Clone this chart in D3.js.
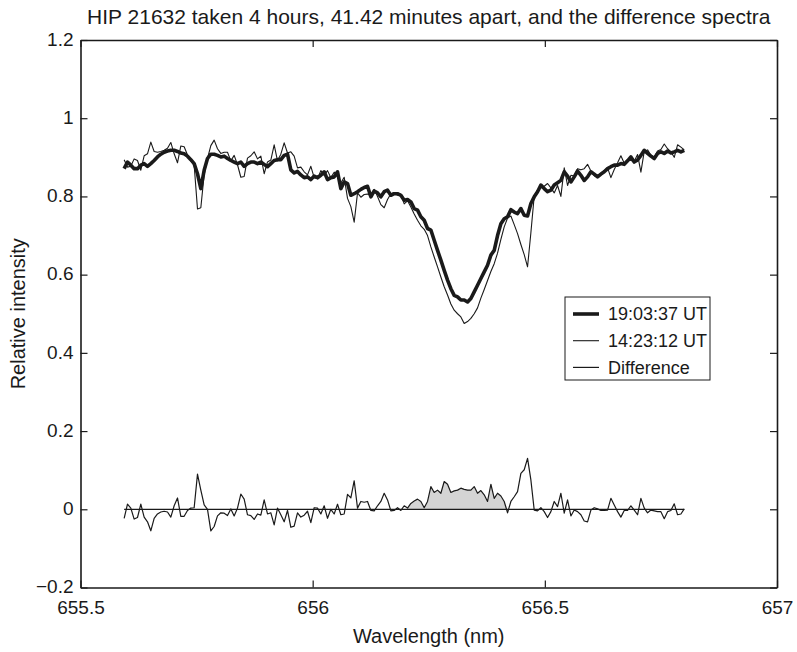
<!DOCTYPE html>
<html><head><meta charset="utf-8">
<script src="https://cdn.jsdelivr.net/npm/d3@7"></script>
<style>
body{margin:0;background:#fff}
text{font-family:"Liberation Sans",Arial,Helvetica,sans-serif;fill:#1a1a1a}
</style>
</head><body><svg id="chart" width="797" height="652"></svg>
<script>
// sampling grid of the spectra (nm)
const lambdaStart = 655.594, lambdaStep = 0.00718;

const spectrum1903 = [
0.871,0.888,0.880,0.871,0.871,0.880,0.884,0.877,0.884,0.892,
0.901,0.908,0.913,0.916,0.918,0.918,0.915,0.911,0.909,0.903,
0.894,0.884,0.858,0.820,0.867,0.897,0.908,0.908,0.905,0.901,
0.903,0.897,0.892,0.888,0.884,0.888,0.877,0.884,0.888,0.888,
0.884,0.888,0.882,0.876,0.884,0.892,0.894,0.894,0.905,0.908,
0.868,0.860,0.864,0.855,0.848,0.850,0.843,0.852,0.848,0.854,
0.863,0.843,0.848,0.850,0.863,0.820,0.837,0.833,0.803,0.807,
0.812,0.818,0.823,0.826,0.799,0.814,0.809,0.799,0.812,0.816,
0.803,0.807,0.807,0.803,0.790,0.792,0.786,0.769,0.765,0.748,
0.739,0.718,0.714,0.688,0.662,0.637,0.611,0.586,0.564,0.547,
0.543,0.535,0.535,0.530,0.539,0.556,0.573,0.590,0.607,0.624,
0.650,0.662,0.700,0.730,0.743,0.748,0.766,0.760,0.756,0.769,
0.752,0.750,0.782,0.799,0.812,0.829,0.820,0.812,0.816,0.829,
0.835,0.841,0.863,0.852,0.837,0.850,0.865,0.854,0.841,0.850,
0.863,0.857,0.850,0.857,0.863,0.871,0.876,0.880,0.880,0.884,
0.882,0.891,0.901,0.888,0.893,0.905,0.918,0.910,0.903,0.897,
0.910,0.914,0.910,0.916,0.911,0.914,0.918,0.914,0.918];

const spectrum1423 = [
0.894,0.875,0.877,0.896,0.892,0.867,0.904,0.909,0.939,0.915,
0.913,0.915,0.918,0.923,0.938,0.909,0.886,0.929,0.927,0.906,
0.891,0.880,0.768,0.771,0.856,0.897,0.930,0.944,0.922,0.910,
0.913,0.913,0.891,0.905,0.881,0.849,0.851,0.898,0.904,0.914,
0.896,0.903,0.858,0.888,0.893,0.932,0.891,0.908,0.937,0.911,
0.914,0.903,0.873,0.875,0.863,0.855,0.877,0.848,0.845,0.866,
0.854,0.866,0.848,0.862,0.850,0.834,0.849,0.795,0.774,0.734,
0.809,0.798,0.805,0.806,0.802,0.818,0.800,0.779,0.771,0.792,
0.807,0.810,0.803,0.806,0.781,0.789,0.773,0.755,0.739,0.725,
0.716,0.700,0.671,0.645,0.620,0.594,0.569,0.548,0.525,0.509,
0.500,0.492,0.475,0.480,0.488,0.500,0.515,0.540,0.562,0.585,
0.608,0.628,0.655,0.690,0.722,0.745,0.750,0.728,0.705,0.677,
0.651,0.620,0.707,0.801,0.816,0.825,0.826,0.833,0.822,0.809,
0.828,0.800,0.873,0.828,0.854,0.852,0.871,0.868,0.871,0.882,
0.865,0.853,0.849,0.860,0.866,0.873,0.848,0.869,0.886,0.904,
0.885,0.894,0.892,0.890,0.907,0.862,0.915,0.919,0.905,0.901,
0.916,0.920,0.934,0.922,0.914,0.900,0.932,0.926,0.919];

const difference = [
-0.023,0.013,0.003,-0.025,-0.021,0.013,-0.020,-0.032,-0.055,-0.023,
-0.012,-0.007,-0.005,-0.007,-0.020,0.009,0.029,-0.018,-0.018,-0.003,
0.003,0.004,0.090,0.049,0.011,0.000,-0.055,-0.044,-0.017,-0.009,
-0.010,-0.016,0.001,-0.017,0.003,0.039,0.026,-0.014,-0.016,-0.026,
-0.012,-0.015,0.024,-0.012,-0.009,-0.040,0.003,-0.014,-0.032,-0.003,
-0.046,-0.043,-0.009,-0.020,-0.015,-0.005,-0.034,0.004,0.003,-0.012,
0.009,-0.023,0.000,-0.012,0.013,-0.014,-0.012,0.038,0.029,0.073,
0.003,0.020,0.018,0.020,-0.003,-0.004,0.009,0.020,0.041,0.024,
-0.004,-0.003,0.004,-0.003,0.009,0.003,0.015,0.021,0.026,0.020,
0.004,0.020,0.058,0.043,0.049,0.041,0.071,0.064,0.043,0.047,
0.049,0.054,0.051,0.049,0.049,0.058,0.041,0.048,0.037,0.020,
0.064,0.028,0.041,0.034,0.020,-0.009,0.020,0.032,0.045,0.092,
0.101,0.130,0.075,-0.002,-0.004,0.004,-0.006,-0.021,-0.006,0.020,
0.007,0.041,-0.010,0.024,-0.017,-0.002,-0.006,-0.014,-0.030,-0.032,
-0.002,0.004,0.001,-0.003,-0.003,-0.002,0.028,0.011,-0.006,-0.020,
-0.003,-0.003,0.009,-0.002,-0.014,0.028,0.003,-0.009,-0.002,-0.004,
-0.006,-0.006,-0.024,-0.006,-0.003,0.014,-0.014,-0.012,0.001];

const shadeRange = [656.20, 656.42];
const xTicks = [655.5, 656, 656.5, 657];
const yTicks = [-0.2, 0, 0.2, 0.4, 0.6, 0.8, 1, 1.2];
const seriesNames = ["19:03:37 UT", "14:23:12 UT", "Difference"];
const titleText = "HIP 21632 taken 4 hours, 41.42 minutes apart, and the difference spectra";
const xLabel = "Wavelength (nm)";
const yLabel = "Relative intensity";

const wavelengths = d3.range(difference.length).map(i => lambdaStart + i * lambdaStep);

const L = 80.5, R = 777, T = 40, B = 587.5;
const svg = d3.select("#chart");
const x = d3.scaleLinear().domain([655.5, 657]).range([L, R]);
const y = d3.scaleLinear().domain([-0.2, 1.2]).range([B, T]);
const ink = "#1a1a1a";
const fmt = d3.format("");
const tickFont = 19;

// shaded area
const shadePts = wavelengths.map((w, i) => [w, difference[i]])
  .filter(p => p[0] >= shadeRange[0] && p[0] <= shadeRange[1]);
svg.append("path")
  .attr("d", d3.area().x(p => x(p[0])).y0(y(0)).y1(p => y(Math.max(0, p[1])))(shadePts))
  .attr("fill", "#d4d4d4").attr("stroke", "none");

// zero line
svg.append("path")
  .attr("d", d3.line().x(w => x(w)).y(() => y(0))([wavelengths[0], wavelengths[wavelengths.length - 1]]))
  .attr("stroke", ink).attr("stroke-width", 1.2).attr("fill", "none");

const line = d3.line().x((d, i) => x(wavelengths[i])).y(d => y(d));
svg.append("path").attr("d", line(difference))
  .attr("fill", "none").attr("stroke", ink).attr("stroke-width", 1.2).attr("stroke-linejoin", "round");
svg.append("path").attr("d", line(spectrum1423))
  .attr("fill", "none").attr("stroke", ink).attr("stroke-width", 1.1).attr("stroke-linejoin", "round");
svg.append("path").attr("d", line(spectrum1903))
  .attr("fill", "none").attr("stroke", ink).attr("stroke-width", 3.6).attr("stroke-linejoin", "round");

// axes (box with inward ticks)
function styleAxis(g, labels) {
  g.selectAll(".domain").attr("stroke", ink).attr("stroke-width", 1.6);
  g.selectAll(".tick line").attr("stroke", ink).attr("stroke-width", 1.2);
  g.selectAll(".tick text").attr("font-size", tickFont).attr("fill", ink)
    .attr("font-family", '"Liberation Sans",Arial,sans-serif');
  if (!labels) g.selectAll(".tick text").remove();
}
svg.append("g").attr("transform", `translate(0,${B})`)
  .call(d3.axisBottom(x).tickValues(xTicks).tickFormat(fmt).tickSizeInner(-7).tickSizeOuter(0).tickPadding(13))
  .call(g => styleAxis(g, true));
svg.append("g").attr("transform", `translate(0,${T})`)
  .call(d3.axisTop(x).tickValues(xTicks).tickSizeInner(-7).tickSizeOuter(0))
  .call(g => styleAxis(g, false));
svg.append("g").attr("transform", `translate(${L},0)`)
  .call(d3.axisLeft(y).tickValues(yTicks).tickFormat(fmt).tickSizeInner(-7).tickSizeOuter(0).tickPadding(7))
  .call(g => { styleAxis(g, true); g.selectAll(".tick text").attr("dy", "0.28em"); });
svg.append("g").attr("transform", `translate(${R},0)`)
  .call(d3.axisRight(y).tickValues(yTicks).tickSizeInner(-7).tickSizeOuter(0))
  .call(g => styleAxis(g, false));

// titles
svg.append("text").attr("x", (L + R) / 2).attr("y", 24).attr("text-anchor", "middle")
  .attr("font-size", 21).text(titleText);
svg.append("text").attr("x", (L + R) / 2).attr("y", 643).attr("text-anchor", "middle")
  .attr("font-size", 20).text(xLabel);
svg.append("text").attr("transform", `translate(25,${(T + B) / 2}) rotate(-90)`)
  .attr("text-anchor", "middle").attr("font-size", 20).text(yLabel);

// legend
const lg = svg.append("g");
lg.append("rect").attr("x", 565).attr("y", 297).attr("width", 145).attr("height", 83)
  .attr("fill", "#fff").attr("stroke", ink).attr("stroke-width", 1);
const widths = [3.6, 1.1, 1.2];
seriesNames.forEach((name, i) => {
  const yy = 314 + i * 26.7;
  lg.append("line").attr("x1", 573).attr("x2", 599).attr("y1", yy).attr("y2", yy)
    .attr("stroke", ink).attr("stroke-width", widths[i]);
  lg.append("text").attr("x", 608).attr("y", yy).attr("dy", "0.36em")
    .attr("font-size", 18).text(name);
});
</script>
</body></html>
